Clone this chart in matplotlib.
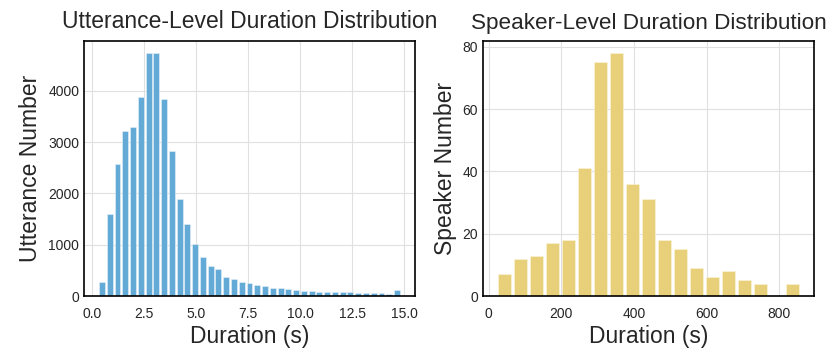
import numpy as np
import matplotlib
matplotlib.use("Agg")
import matplotlib.pyplot as plt
import seaborn as sns

# utterance-level histogram (39 bins, 0.29 .. 14.85 s)
utt_start = 0.29
utt_width = 0.3733
utt_counts = [280, 1607, 2582, 3226, 3304, 3876, 4735, 4735, 3850, 2829,
              1893, 1411, 1021, 767, 592, 533, 371, 325, 273, 260,
              221, 202, 163, 156, 143, 117, 104, 104, 72, 85,
              78, 78, 78, 65, 59, 65, 59, 46, 117]

# speaker-level histogram (19 bins of ~44 s starting at ~22 s)
spk_start = 21.8
spk_width = 44.0
spk_counts = [7, 12, 13, 17, 18, 41, 75, 78, 36, 31,
              18, 15, 9, 6, 8, 5, 4, 0, 4]

sns.set_style("whitegrid")
plt.rcParams['font.family'] = ['Liberation Sans', 'DejaVu Sans']
plt.rcParams['axes.edgecolor'] = 'black'
plt.rcParams['axes.linewidth'] = 1.2
plt.rcParams['grid.color'] = '#e0e0e0'

fig = plt.figure(figsize=(8.3, 3.63), dpi=100)
ax1 = fig.add_axes([84 / 830, 1 - 296 / 363, 331 / 830, 255 / 363])
ax2 = fig.add_axes([483 / 830, 1 - 296 / 363, 331 / 830, 255 / 363])

utt_x = utt_start + utt_width * (np.arange(len(utt_counts)) + 0.5)
ax1.bar(utt_x, utt_counts, width=utt_width * 0.76, color='#64aad6',
        edgecolor='#e8f2f9', linewidth=0.4)
ax1.set_title("Utterance-Level Duration Distribution", fontsize=16.5, color='#262626', pad=9)
ax1.set_xlabel("Duration (s)", fontsize=16.5, color='#262626', labelpad=3)
ax1.set_ylabel("Utterance Number", fontsize=16.5, color='#262626')
ax1.set_xticks([0, 2.5, 5, 7.5, 10, 12.5, 15])
ax1.set_yticks([0, 1000, 2000, 3000, 4000])
ax1.tick_params(labelsize=10, colors='#262626', length=0)
ax1.tick_params(axis='x', pad=8)
ax1.set_axisbelow(True)

spk_x = spk_start + spk_width * (np.arange(len(spk_counts)) + 0.5)
ax2.bar(spk_x, spk_counts, width=spk_width * 0.82, color='#e8d07a',
        edgecolor='#fbf4dc', linewidth=0.4)
ax2.set_title("Speaker-Level Duration Distribution", fontsize=16.2, color='#262626', pad=9)
ax2.set_xlabel("Duration (s)", fontsize=16.5, color='#262626', labelpad=3)
ax2.set_ylabel("Speaker Number", fontsize=16.5, color='#262626')
ax2.set_xticks([0, 200, 400, 600, 800])
ax2.set_yticks([0, 20, 40, 60, 80])
ax2.tick_params(labelsize=10, colors='#262626', length=0)
ax2.tick_params(axis='x', pad=8)
ax2.set_axisbelow(True)

fig.savefig("out.png", dpi=100)
